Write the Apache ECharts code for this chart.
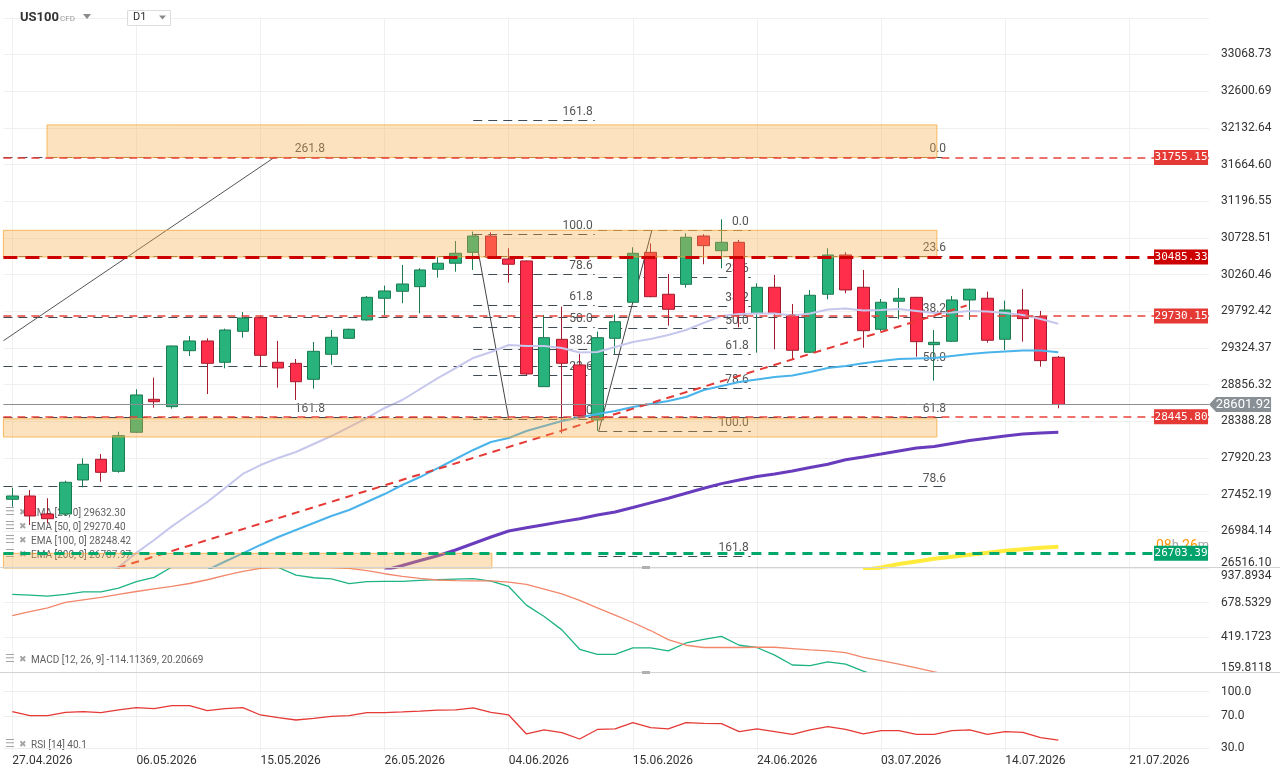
<!DOCTYPE html>
<html><head><meta charset="utf-8">
<script src="https://cdn.jsdelivr.net/npm/echarts/dist/echarts.min.js"></script>
<style>html,body{margin:0;padding:0;background:#fff}#c{width:1280px;height:779px}</style>
</head><body><div id="c"></div>
<script>
// ---------- categories ----------
const dates = [
'27.04.2026','28.04.2026','29.04.2026','30.04.2026','01.05.2026',
'04.05.2026','05.05.2026','06.05.2026','07.05.2026','08.05.2026',
'11.05.2026','12.05.2026','13.05.2026','14.05.2026','15.05.2026',
'18.05.2026','19.05.2026','20.05.2026','21.05.2026','22.05.2026',
'25.05.2026','26.05.2026','27.05.2026','28.05.2026','29.05.2026',
'01.06.2026','02.06.2026','03.06.2026','04.06.2026','05.06.2026',
'08.06.2026','09.06.2026','10.06.2026','11.06.2026','12.06.2026',
'15.06.2026','16.06.2026','17.06.2026','18.06.2026','19.06.2026',
'22.06.2026','23.06.2026','24.06.2026','25.06.2026','26.06.2026',
'29.06.2026','30.06.2026','01.07.2026','02.07.2026','03.07.2026',
'06.07.2026','07.07.2026','08.07.2026','09.07.2026','10.07.2026',
'13.07.2026','14.07.2026','15.07.2026','16.07.2026','17.07.2026',
'18.07.2026','19.07.2026','20.07.2026','21.07.2026','22.07.2026','23.07.2026','24.07.2026','25.07.2026'];

// ---------- OHLC ----------
const openP  = [27393,27435,27205,27205,27639,27903,27750,28248,28669,28575,29289,29413,29141,29536,29710,29141,29128,28924,29243,29447,29681,29958,30047,30106,30328,30405,30544,30752,30459,30434,28830,29434,29107,28405,29447,29907,30544,30009,30136,30752,30565,30672,29766,30098,29749,29269,30009,30510,30098,29562,29920,29970,29366,29409,29936,29958,29435,29808,29723,29205];
const closeP = [27435,27180,27145,27610,27839,27737,28204,28724,28638,29349,29413,29128,29553,29706,29230,29068,28893,29281,29460,29562,29970,30051,30140,30319,30405,30532,30752,30481,30392,28992,29455,29128,28456,29455,29659,30532,29978,29817,30736,30629,30672,29745,30098,29766,29294,29996,30510,30064,29544,29907,29958,29404,29396,29936,30073,29422,29808,29698,29162,28601.92];
const lowP   = [27298,27065,27087,27180,27546,27617,27732,28239,28562,28549,29221,28736,29064,29455,29090,28817,28660,28804,29110,29440,29672,29745,29894,29766,30221,30297,30319,30472,30157,28979,28830,28235,28426,28265,29247,29900,29970,29608,30093,30392,30341,29588,29264,29307,29179,29260,29945,30022,29327,29540,29690,29212,28906,29400,29681,29391,29298,29404,29085,28554];
const highP  = [27541,27511,27406,27630,27916,27971,28255,28796,28945,29355,29477,29447,29570,29783,29732,29413,29183,29400,29553,29570,29987,30119,30383,30341,30489,30689,30808,30800,30596,30440,29745,29851,29247,29532,29753,30609,30659,30268,30787,30775,30966,30702,30149,30255,29885,30064,30596,30545,30319,29949,30089,29975,29553,29987,30080,30042,29927,30073,29796,29221];

// ---------- EMAs ----------
const ema25 = [null,null,null,null,null,26400,26529,26709,26873,27047,27205,27358,27537,27716,27830,27920,27996,28098,28200,28315,28430,28558,28660,28800,28940,29068,29196,29272,29362,29349,29349,29324,29266,29272,29336,29400,29438,29489,29553,29643,29732,29757,29764,29764,29738,29764,29815,29828,29802,29808,29821,29796,29770,29776,29796,29789,29770,29745,29694,29632.30];
const ema50 = [null,null,null,null,null,null,null,null,null,null,null,26490,26599,26702,26810,26912,27001,27090,27180,27256,27358,27460,27575,27677,27791,27907,28022,28124,28175,28264,28328,28392,28437,28481,28520,28571,28609,28647,28698,28788,28839,28890,28922,28954,28973,29017,29068,29094,29128,29158,29183,29190,29196,29222,29247,29266,29279,29292,29292,29270.40];
const ema100 = [null,null,null,null,null,null,null,null,null,null,null,null,null,null,null,null,null,null,null,null,null,26487,26548,26611,26672,26746,26829,26912,26988,27029,27069,27108,27145,27192,27231,27288,27347,27406,27470,27533,27593,27639,27684,27716,27754,27799,27840,27897,27933,27971,28010,28047,28067,28105,28143,28171,28200,28226,28239,28248.42];
const ema200 = [null,null,null,null,null,null,null,null,null,null,null,null,null,null,null,null,null,null,null,null,null,null,null,null,null,null,null,null,null,null,null,null,null,null,null,null,null,null,null,null,null,null,null,null,null,null,null,null,26490,26522,26567,26600,26633,26659,26685,26710,26736,26756,26774,26787.97];

// ---------- MACD / RSI ----------
const macdLine = [740,735,728,740,760,760,787,836,868,945,985,1010,1025,1020,990,942,885,865,856,821,836,838,838,845,851,855,859,840,800,660,575,475,330,291,291,340,340,318,377,404,426,360,343,286,212,207,236,219,167,120,85,60,40,10,-20,-45,-70,-90,-100,-114.11369];
const macdSignal = [582,612,640,681,700,718,740,762,782,800,822,850,883,912,935,942,945,943,940,935,918,895,875,860,848,843,842,842,832,815,780,745,695,640,585,530,470,402,360,343,343,343,345,345,335,325,318,305,270,245,219,190,160,135,110,90,70,50,35,20.20669];
const rsi = [75.3,70.5,70.3,74.5,75.3,74.2,77.4,80.2,79,82.7,82.7,76.5,79,80.2,71.2,67.9,65,67,69.5,70.3,74,74.1,75,76,77.2,77.4,80,74.3,71.2,47.7,52.7,49.3,41.5,53.3,53.9,61.7,55.5,53.9,61.7,60.9,60.5,50.6,53.9,50.6,47.3,52.7,56.7,53.5,47.7,51.8,51.8,47.3,47.3,51.8,52.7,47.3,50.6,49.8,43.1,40.1];

// ---------- axis ticks ----------
const priceMin = 26516.098, priceStep = 468.0453, priceMax = 33534;
const macdMin = 159.8118, macdMax = 937.8934, macdStep = 259.36054;
const rsiLevels = [100, 70, 30];

// ---------- levels ----------
const lastPrice = 28601.92;
const levelValues = [31755.15, 30485.33, 29730.15, 28445.80, 26703.39];
const levelColors = ['#e8413b', '#cc0000', '#e8413b', '#e8413b', '#00a86b'];
const levelTagColors = ['#e53935', '#cc0000', '#e53935', '#e53935', '#00a36c'];

// ---------- zones ----------
const zoneTop    = [32170, 30825, 28420, 26703.39];
const zoneBottom = [31755.15, 30485.33, 28188, 26516.1];
const zoneX1 = [1.96, -0.5, -0.5, -0.5];
const zoneX2 = [52.15, 52.15, 52.15, 27.05];

// ---------- fibonacci tools ----------
const fibALabels = ['0.0','23.6','38.2','50.0','61.8','78.6'];
const fibAValues = [31761, 30498, 29719, 29094, 28443, 27556];
const fibARange = [-0.5, 52.78];
const fibBLabels = ['161.8','100.0','78.6','61.8','50.0','38.2','23.6','0.0'];
const fibBValues = [32233, 30778, 30268, 29872, 29592, 29311, 28979, 28418];
const fibBRange = [26.0, 32.85];
const fibCLabels = ['0.0','23.6','38.2','50.0','61.8','78.6','100.0','161.8'];
const fibCValues = [30829, 30226, 29853, 29570, 29247, 28813, 28265, 26669];
const fibCRange = [33.05, 41.65];
const fibDLabels = ['261.8','161.8'];
const fibDValues = [31761, 28443];
const fibDRange = [-0.5, 17.75];

// ---------- drawn trend lines ----------
const fibDLine = [[-0.5, 29416], [14.82, 31761]];
const fibBLine = [[26.1, 30778], [28.0, 28418]];
const fibCLine = [[33.08, 28265], [36.08, 30829]];
const trendLine = [[5.96, 26520], [53.83, 29865]];

// ---------- build ----------
const N = dates.length;
const candleData = openP.map((o, i) => [o, closeP[i], lowP[i], highP[i]]);

function fibSegs(labels, values, range, color) {
  return labels.map((l, i) => {
    const a = {coord: [range[0], values[i]], name: l};
    if (color) a.lineStyle = {color: color};
    return [a, {coord: [range[1], values[i]]}];
  });
}
const fibData = [].concat(
  fibSegs(fibALabels, fibAValues, fibARange),
  fibSegs(fibBLabels, fibBValues, fibBRange),
  fibSegs(fibCLabels, fibCValues, fibCRange),
  fibSegs(fibDLabels, fibDValues, fibDRange, 'rgba(0,0,0,0)')
);

const levelLines = levelValues.map((v, i) => ({
  yAxis: v,
  lineStyle: {color: levelColors[i], width: (i === 1 || i === 4) ? 3 : 1.6, type: (i === 1) ? [14, 8] : (i === 4 ? [10, 7] : [8, 6])}
}));
levelLines.push({yAxis: lastPrice, lineStyle: {color: '#8a8f94', width: 1, type: 'solid'}});

const tagData = levelValues.map((v, i) => ({
  coord: [67.5, v], symbol: 'rect', symbolSize: [54, 15], symbolOffset: [-28, 0],
  itemStyle: {color: levelTagColors[i]},
  label: {show: true, position: 'inside', formatter: v.toFixed(2), color: '#fff', fontFamily: 'DejaVu Sans Mono', fontSize: 11}
}));
tagData.push({
  coord: [67.5, lastPrice], symbol: 'path://M0,7 L7,0 L62,0 L62,14 L7,14 Z', symbolKeepAspect: false,
  symbolSize: [62, 15], symbolOffset: [31, 0], itemStyle: {color: '#889096'},
  label: {show: true, position: 'inside', offset: [3, 0], formatter: lastPrice.toFixed(2), color: '#fff', fontFamily: 'Roboto', fontSize: 13}
});

const zoneData = zoneTop.map((t, i) => [{coord: [zoneX1[i], t]}, {coord: [zoneX2[i], zoneBottom[i]]}]);

function lineSeries(data, color, width, z) {
  return {type: 'line', xAxisIndex: 0, yAxisIndex: 0, data: data, symbol: 'none', z: z, silent: true,
    lineStyle: {color: color, width: width}, connectNulls: false};
}
function drawLine(data, style, z) {
  return {type: 'line', xAxisIndex: 1, yAxisIndex: 0, data: data, symbol: 'none', z: z, silent: true, lineStyle: style};
}

const catAxisBase = {
  type: 'category', data: dates, boundaryGap: true,
  axisLine: {show: false}, axisTick: {show: false},
  splitLine: {show: true, interval: 6, alignWithLabel: true, lineStyle: {color: '#f0f0f0'}}
};

const labelFont = {fontFamily: 'Roboto', fontSize: 12, color: '#333'};

const option = {
  animation: false,
  backgroundColor: '#fff',
  textStyle: {fontFamily: 'Roboto'},
  grid: [
    {left: 3.4, top: 18, width: 1205.64, height: 550},
    {left: 3.4, top: 568, width: 1205.64, height: 104},
    {left: 3.4, top: 673, width: 1205.64, height: 78}
  ],
  xAxis: [
    Object.assign({}, catAxisBase, {gridIndex: 0, axisLabel: {show: false}}),
    {type: 'value', gridIndex: 0, min: -0.5, max: N - 0.5, show: false, splitLine: {show: false}},
    Object.assign({}, catAxisBase, {gridIndex: 1, axisLabel: {show: false}}),
    Object.assign({}, catAxisBase, {gridIndex: 2, axisLabel: Object.assign({show: true, interval: 6, align: 'left', margin: 4}, labelFont)})
  ],
  yAxis: [
    {type: 'value', gridIndex: 0, position: 'right', min: priceMin, max: priceMax, interval: priceStep,
     axisLine: {show: false}, axisTick: {show: false}, splitLine: {lineStyle: {color: '#f0f0f0'}},
     axisLabel: Object.assign({margin: 12, showMaxLabel: false,
       formatter: v => Math.abs(v - priceMin) < 1 ? '{lo|' + v.toFixed(2) + '}' : v.toFixed(2),
       rich: {lo: {padding: [0, 0, 10, 0], fontFamily: 'Roboto', fontSize: 12, color: '#333'}}}, labelFont)},
    {type: 'value', gridIndex: 1, position: 'right', min: macdMin, max: macdMax, interval: macdStep,
     axisLine: {show: false}, axisTick: {show: false}, splitLine: {lineStyle: {color: '#f0f0f0'}},
     axisLabel: Object.assign({margin: 12,
       formatter: v => Math.abs(v - macdMax) < 0.01 ? '{hi|' + v.toFixed(4) + '}' : (Math.abs(v - macdMin) < 0.01 ? '{lo|' + v.toFixed(4) + '}' : v.toFixed(4)),
       rich: {hi: {padding: [16, 0, 0, 0], fontFamily: 'Roboto', fontSize: 12, color: '#333'},
              lo: {padding: [0, 0, 8, 0], fontFamily: 'Roboto', fontSize: 12, color: '#333'}}}, labelFont)},
    {type: 'value', gridIndex: 2, position: 'right', min: 26.66, max: 123.1,
     axisLine: {show: false}, axisTick: {show: false}, splitLine: {show: false}, axisLabel: {show: false}}
  ],
  series: [
    // fibonacci levels
    {type: 'line', xAxisIndex: 1, yAxisIndex: 0, data: [], z: 1, silent: true,
     markLine: {z: 1, silent: true, symbol: ['none', 'none'], animation: false,
       lineStyle: {color: '#3e4b53', width: 1, type: [9, 6]},
       label: {show: true, position: 'insideEndTop', formatter: '{b}', color: '#555', fontSize: 12, fontFamily: 'Roboto', distance: 2},
       data: fibData}},
    drawLine(fibDLine, {color: '#555', width: 1}, 1),
    drawLine(fibBLine, {color: '#444', width: 1}, 1),
    drawLine(fibCLine, {color: '#444', width: 1}, 1),
    // candles
    {type: 'candlestick', xAxisIndex: 0, yAxisIndex: 0, z: 2, barWidth: 12, silent: true, data: candleData,
     itemStyle: {color: '#28b37c', color0: '#ff2f4b', borderColor: '#1a7a50', borderColor0: '#a31b2c', borderWidth: 1}},
    // EMAs
    lineSeries(ema25, '#c6c7ec', 2, 3),
    lineSeries(ema50, '#4ab4ea', 2, 3),
    lineSeries(ema100, '#683cbd', 3, 3),
    lineSeries(ema200, '#ffeb3b', 4, 3),
    drawLine(trendLine, {color: '#e53935', width: 2, type: [8, 6]}, 3),
    // zones
    {type: 'line', xAxisIndex: 1, yAxisIndex: 0, data: [], z: 4, silent: true,
     markArea: {z: 4, silent: true,
       itemStyle: {color: 'rgba(250,170,70,0.34)', borderColor: 'rgba(244,165,50,0.75)', borderWidth: 1},
       data: zoneData}},
    // price levels + tags
    {type: 'line', xAxisIndex: 1, yAxisIndex: 0, data: [], z: 5, silent: true,
     markLine: {z: 5, silent: true, symbol: ['none', 'none'], label: {show: false}, data: levelLines},
     markPoint: {z: 10, silent: true, data: tagData}},
    // MACD
    {type: 'line', xAxisIndex: 2, yAxisIndex: 1, data: macdLine, symbol: 'none', silent: true, lineStyle: {color: '#1db385', width: 1.3}},
    {type: 'line', xAxisIndex: 2, yAxisIndex: 1, data: macdSignal, symbol: 'none', silent: true, lineStyle: {color: '#f2876b', width: 1.3}},
    // RSI
    {type: 'line', xAxisIndex: 3, yAxisIndex: 2, data: rsi, symbol: 'none', silent: true, lineStyle: {color: '#e53935', width: 1.3},
     markLine: {z: 1, silent: true, symbol: ['none', 'none'], lineStyle: {color: '#ececec', width: 1, type: 'solid'},
       label: {show: true, position: 'end', distance: 12, formatter: p => Number(p.value).toFixed(1), color: '#333', fontFamily: 'Roboto', fontSize: 12},
       data: rsiLevels.map(v => ({yAxis: v}))}}
  ],
  graphic: [
    // header
    {type: 'text', z: 20, left: 20, top: 11, style: {text: 'US100', font: 'bold 13px Roboto', fill: '#333'}},
    {type: 'text', z: 20, left: 60, top: 14.5, style: {text: 'CFD', font: '8px Roboto', fill: '#999'}},
    {type: 'polygon', z: 20, shape: {points: [[83, 14], [91, 14], [87, 19]]}, style: {fill: '#8a8a8a'}},
    {type: 'rect', z: 20, shape: {x: 127.5, y: 10.5, width: 43, height: 15}, style: {fill: '#fff', stroke: '#dcdcdc'}},
    {type: 'text', z: 21, left: 133, top: 12, style: {text: 'D1', font: '11px Roboto', fill: '#333'}},
    {type: 'polygon', z: 21, shape: {points: [[159, 15.5], [166, 15.5], [162.5, 19.5]]}, style: {fill: '#8a8a8a'}},
    // pane separators and handles
    {type: 'line', z: 20, shape: {x1: 0, y1: 567.5, x2: 1280, y2: 567.5}, style: {stroke: '#d3d3d3', lineWidth: 1}},
    {type: 'line', z: 20, shape: {x1: 0, y1: 672.5, x2: 1280, y2: 672.5}, style: {stroke: '#d3d3d3', lineWidth: 1}},
    {type: 'rect', z: 21, shape: {x: 642, y: 566, width: 8, height: 3}, style: {fill: '#b0b0b0'}},
    {type: 'rect', z: 21, shape: {x: 642, y: 671, width: 8, height: 3}, style: {fill: '#b0b0b0'}},
    // countdown
    {type: 'text', z: 6, left: 1156, top: 539, style: {text: '{o|08}{g|h }{o|26}{g|m}', rich: {
      o: {fill: '#ff9800', font: '14px Roboto'}, g: {fill: '#a8a8a8', font: '13px Roboto'}}}}
  ]
};

// legends
const legendRows = [
  ['EMA [25, 0] 29632.30', 514], ['EMA [50, 0] 29270.40', 528], ['EMA [100, 0] 28248.42', 542], ['EMA [200, 0] 26787.97', 556],
  ['MACD [12, 26, 9] -114.11369, 20.20669', 661], ['RSI [14] 40.1', 746]
];
legendRows.forEach(r => {
  option.graphic.push({type: 'text', z: 1, left: 5, top: r[1] - 7, style: {text: '☰', font: '11px DejaVu Sans', fill: '#a4a4a4'}});
  option.graphic.push({type: 'text', z: 1, left: 19, top: r[1] - 6, style: {text: '✖', font: '9px DejaVu Sans', fill: '#a4a4a4'}});
  option.graphic.push({type: 'text', z: 1, left: 31, top: r[1] - 6, style: {text: r[0], font: '10px Roboto', fill: '#5f5f5f'}});
});

const chart = echarts.init(document.getElementById('c'), null, {renderer: 'canvas'});
chart.setOption(option);
</script></body></html>
